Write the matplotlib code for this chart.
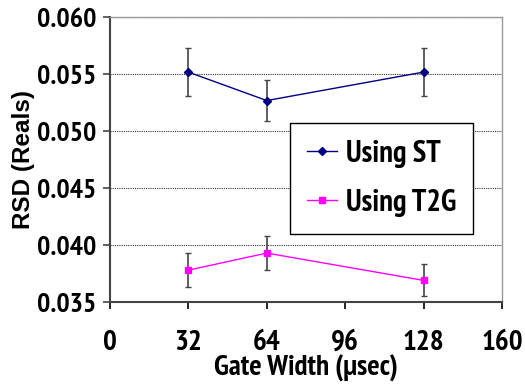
import matplotlib.pyplot as plt
from matplotlib.lines import Line2D

# gate widths (usec) and relative standard deviation of the reals
gate_width = [32, 64, 128]
rsd_st = [0.0552, 0.0527, 0.0552]
err_st = [0.0021, 0.0018, 0.0021]
rsd_t2g = [0.0378, 0.0393, 0.0369]
err_t2g = [0.0015, 0.0015, 0.0014]

x_ticks = [0, 32, 64, 96, 128, 160]
y_ticks = [0.035, 0.040, 0.045, 0.050, 0.055, 0.060]

narrow = ['PT Sans Narrow', 'Liberation Sans', 'DejaVu Sans']
wide = ['Liberation Sans', 'DejaVu Sans']

fig = plt.figure(figsize=(5.25, 3.88), dpi=100)
ax = fig.add_axes([0.2095, 0.2216, 0.7465, 0.7334])

# dotted horizontal gridlines
for y in y_ticks[1:]:
    ax.axhline(y, color='#333333', linestyle=(0, (1, 1)), linewidth=0.8, zorder=0)

st_color = '#000080'
t2g_color = '#FF00FF'
ax.errorbar(gate_width, rsd_st, yerr=err_st, color=st_color, marker='D', markersize=4,
            linewidth=1.0, ecolor='#444444', elinewidth=1.2, capsize=2.5, capthick=1.0, zorder=3)
ax.errorbar(gate_width, rsd_t2g, yerr=err_t2g, color=t2g_color, marker='s', markersize=4.5,
            linewidth=1.0, ecolor='#444444', elinewidth=1.2, capsize=2.5, capthick=1.0, zorder=3)

ax.set_xlim(0, 160)
ax.set_ylim(0.035, 0.060)
ax.set_xticks(x_ticks)
ax.set_yticks(y_ticks)
ax.set_xticklabels([str(v) for v in x_ticks], family=narrow, fontweight='bold', fontsize=21)
ax.set_yticklabels(['%.3f' % v for v in y_ticks], family=narrow, fontweight='bold', fontsize=20)
ax.tick_params(axis='x', direction='out', length=5, width=1.2, pad=15, color='black')
ax.tick_params(axis='y', direction='out', length=5, width=1.2, pad=5, color='#444444')

for side in ['left', 'bottom']:
    ax.spines[side].set_color('#444444')
    ax.spines[side].set_linewidth(1.5)
for side in ['top', 'right']:
    ax.spines[side].set_color('#999999')
    ax.spines[side].set_linewidth(1.0)

ax.set_xlabel('Gate Width (µsec)', family=narrow, fontweight='bold', fontsize=21, labelpad=-1)
ax.set_ylabel('RSD (Reals)', family=wide, fontweight='bold', fontsize=17.5, labelpad=1)

handles = [Line2D([], [], color=st_color, marker='D', markersize=4, linewidth=1.0),
           Line2D([], [], color=t2g_color, marker='s', markersize=4.5, linewidth=1.0)]
leg = ax.legend(handles, ['Using ST', 'Using T2G'], loc='upper left', bbox_to_anchor=(0.459, 0.63),
                prop={'family': narrow, 'weight': 'bold', 'size': 22},
                frameon=True, fancybox=False, edgecolor='black', framealpha=1,
                handlelength=1.0, handletextpad=0.3, labelspacing=0.7, borderpad=0.55,
                borderaxespad=0)
leg.get_frame().set_linewidth(1.0)

fig.savefig('out.png', dpi=100)
